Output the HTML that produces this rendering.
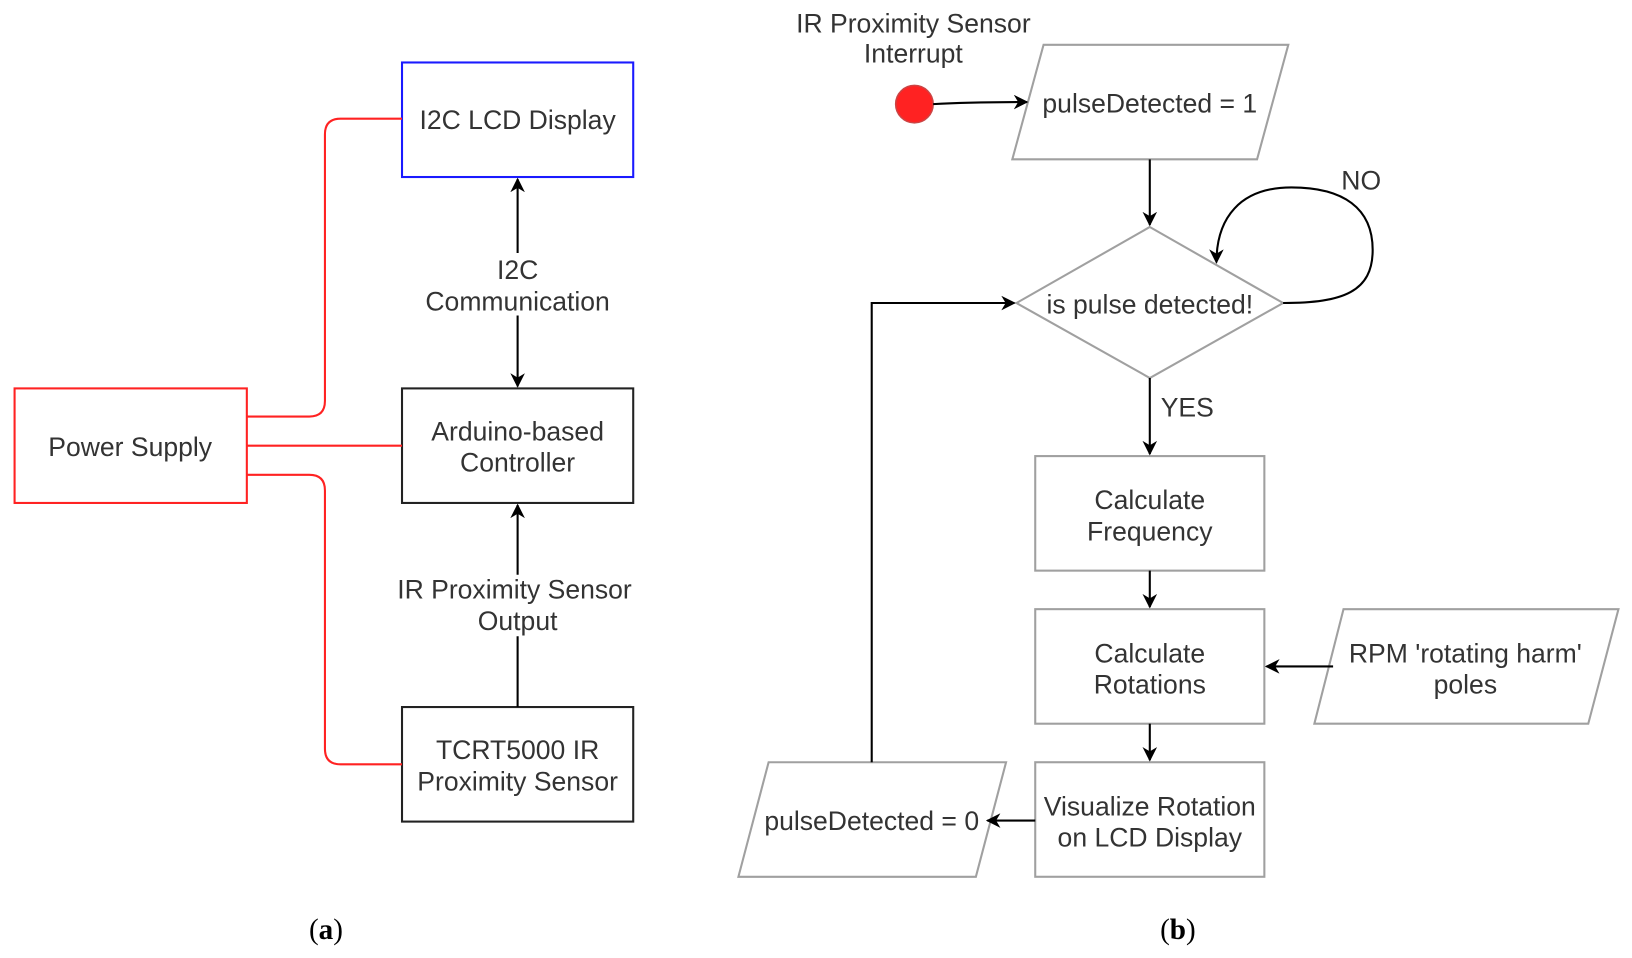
<!DOCTYPE html>
<html><head><meta charset="utf-8"><style>
html,body{margin:0;padding:0;background:#fff;}
svg{display:block;}
text{font-family:"Liberation Sans",sans-serif;font-size:25.5px;fill:#333;text-anchor:middle;}
.cap{font-family:"Liberation Serif",serif;font-size:28px;fill:#000;}
</style></head><body>
<svg width="1632" height="958" viewBox="0 0 1567 920" preserveAspectRatio="none" xmlns="http://www.w3.org/2000/svg">
<defs>
<marker id="a" viewBox="0 0 10 10" refX="9" refY="5" markerWidth="14" markerHeight="14" orient="auto-start-reverse" markerUnits="userSpaceOnUse">
<path d="M0,0 L10,5 L0,10 L3,5 z" fill="#000"/></marker>
</defs>
<!-- (a) -->
<g fill="none" stroke-width="2">
<rect x="386" y="60" width="222" height="110" stroke="#1a1aff"/>
<rect x="386" y="373" width="222" height="110" stroke="#222"/>
<rect x="386" y="679" width="222" height="110" stroke="#222"/>
<rect x="14" y="373" width="223" height="110" stroke="#f22"/>
<path d="M237,400 H297 Q312,400 312,385 V129 Q312,114 327,114 H386" stroke="#f22"/>
<path d="M237,428 H386" stroke="#f22"/>
<path d="M237,456 H297 Q312,456 312,471 V719 Q312,734 327,734 H386" stroke="#f22"/>
<path d="M497,243 V172" stroke="#000" marker-end="url(#a)"/>
<path d="M497,303 V371" stroke="#000" marker-end="url(#a)"/>
<path d="M497,679 V611" stroke="#000"/>
<path d="M497,552 V485" stroke="#000" marker-end="url(#a)"/>
</g>
<text x="497" y="124">I2C LCD Display</text>
<text x="497" y="268">I2C</text>
<text x="497" y="298">Communication</text>
<text x="497" y="423">Arduino-based</text>
<text x="497" y="453">Controller</text>
<text x="125" y="438">Power Supply</text>
<text x="494" y="575">IR Proximity Sensor</text>
<text x="497" y="605">Output</text>
<text x="497" y="729">TCRT5000 IR</text>
<text x="497" y="759">Proximity Sensor</text>
<text class="cap" x="313" y="902">(<tspan font-weight="bold" style="fill:#000">a</tspan>)</text>
<!-- (b) -->
<g fill="#fff" stroke="#a0a0a0" stroke-width="2">
<polygon points="1002,43 1237,43 1207,153 972,153"/>
<polygon points="1104,218 1232,291 1104,363 976,291"/>
<rect x="994" y="438" width="220" height="110"/>
<rect x="994" y="585" width="220" height="110"/>
<rect x="994" y="732" width="220" height="110"/>
<polygon points="1290,585 1554,585 1525,695 1262,695"/>
<polygon points="738,732 966,732 937,842 709,842"/>
</g>
<circle cx="878" cy="100" r="18" fill="#f22" stroke="#c44" stroke-width="1.5"/>
<g fill="none" stroke="#000" stroke-width="2">
<path d="M896,100 Q930,98 986,98" marker-end="url(#a)"/>
<path d="M1104,153 V216" marker-end="url(#a)"/>
<path d="M1232,291 C1290,291 1318,280 1318,240 C1318,200 1290,180 1240,180 C1190,180 1168,210 1168,252" marker-end="url(#a)"/>
<path d="M1104,363 V436" marker-end="url(#a)"/>
<path d="M1104,548 V583" marker-end="url(#a)"/>
<path d="M1104,695 V730" marker-end="url(#a)"/>
<path d="M1280,640 H1216" marker-end="url(#a)"/>
<path d="M994,788 H948" marker-end="url(#a)"/>
<path d="M837,732 V291 H974" marker-end="url(#a)"/>
</g>
<text x="877" y="31">IR Proximity Sensor</text>
<text x="877" y="60">Interrupt</text>
<text x="1104" y="108">pulseDetected = 1</text>
<text x="1104" y="301">is pulse detected!</text>
<text x="1307" y="182">NO</text>
<text x="1140" y="400">YES</text>
<text x="1104" y="489">Calculate</text>
<text x="1104" y="519">Frequency</text>
<text x="1104" y="636">Calculate</text>
<text x="1104" y="666">Rotations</text>
<text x="1407" y="636">RPM 'rotating harm'</text>
<text x="1407" y="666">poles</text>
<text x="1104" y="783">Visualize Rotation</text>
<text x="1104" y="813">on LCD Display</text>
<text x="837" y="797">pulseDetected = 0</text>
<text class="cap" x="1131" y="902">(<tspan font-weight="bold" style="fill:#000">b</tspan>)</text>
</svg>
</body></html>
